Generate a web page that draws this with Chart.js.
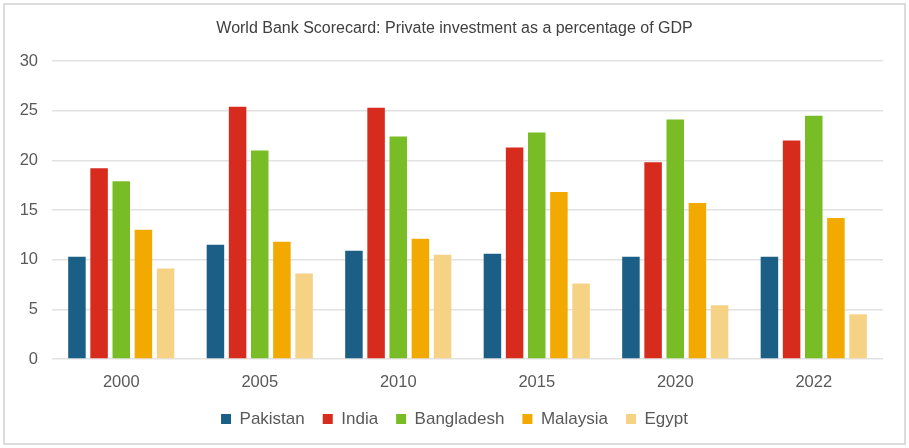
<!DOCTYPE html>
<html>
<head>
<meta charset="utf-8">
<script src="https://cdn.jsdelivr.net/npm/chart.js@4"></script>
<style>
  html, body { margin: 0; padding: 0; background: #fff; }
  #wrap { position: relative; width: 909px; height: 448px; }
  #frame { position: absolute; left: 3px; top: 3px; width: 899px; height: 438px; border: 2px solid #dcdcdc; }
  #chart { position: absolute; left: 0; top: 0; }
</style>
</head>
<body>
<div id="wrap">
  <div id="frame"></div>
  <canvas id="chart" width="909" height="448"></canvas>
</div>
<script>
// values
const years = ["2000", "2005", "2010", "2015", "2020", "2022"];
const pakistan   = [10.3, 11.5, 10.9, 10.6, 10.3, 10.3];
const india      = [19.2, 25.4, 25.3, 21.3, 19.8, 22.0];
const bangladesh = [17.9, 21.0, 22.4, 22.8, 24.1, 24.5];
const malaysia   = [13.0, 11.8, 12.1, 16.8, 15.7, 14.2];
const egypt      = [9.1, 8.6, 10.5, 7.6, 5.4, 4.5];
const yTicks = [0, 5, 10, 15, 20, 25, 30];

const textColor = "#595959";
const fontFamily = "'Liberation Sans', Arial, sans-serif";

function makeSet(label, data, color) {
    return {
        label: label,
        data: data,
        backgroundColor: color,
        borderWidth: 0,
        categoryPercentage: 0.8,
        barPercentage: 0.79
    };
}

const dataParams = {
    labels: years,
    datasets: [
        makeSet("Pakistan", pakistan, "#1b5f86"),
        makeSet("India", india, "#d72b1e"),
        makeSet("Bangladesh", bangladesh, "#78bd25"),
        makeSet("Malaysia", malaysia, "#f2a900"),
        makeSet("Egypt", egypt, "#f6d285")
    ]
};

const options = {
    responsive: false,
    animation: false,
    layout: {
        padding: { left: 0, right: 0, top: 0, bottom: 10.5 }
    },
    scales: {
        x: {
            afterFit: function(scale) { scale.height = 33.5; },
            grid: { display: false, drawTicks: false },
            border: { display: false },
            ticks: {
                color: textColor,
                padding: 14,
                font: { family: fontFamily, size: 16.5 }
            }
        },
        y: {
            min: 0,
            max: 30,
            afterFit: function(scale) { scale.width = 52; },
            afterBuildTicks: function(scale) {
                scale.ticks = yTicks.map(v => ({ value: v }));
            },
            grid: { color: "#e2e2e2", lineWidth: 1.5, drawTicks: false },
            border: { display: false },
            ticks: {
                color: textColor,
                padding: 14,
                font: { family: fontFamily, size: 16.5 }
            }
        },
        // empty strip on the right so title and legend stay centred on the page
        spacer: {
            position: "right",
            afterFit: function(scale) { scale.width = 26; },
            grid: { display: false, drawTicks: false },
            border: { display: false },
            ticks: { display: false }
        }
    },
    plugins: {
        title: {
            display: true,
            text: "World Bank Scorecard: Private investment as a percentage of GDP",
            color: "#404040",
            padding: { top: 19, bottom: 22.8 },
            font: { family: fontFamily, size: 16, weight: "normal" }
        },
        legend: {
            position: "bottom",
            labels: {
                color: textColor,
                boxWidth: 10,
                boxHeight: 10,
                padding: 18,
                font: { family: fontFamily, size: 17 }
            }
        },
        tooltip: { enabled: false }
    }
};

const ctx = document.getElementById("chart").getContext("2d");
const chart = new Chart(ctx, {
    type: "bar",
    data: dataParams,
    options: options
});
</script>
</body>
</html>
